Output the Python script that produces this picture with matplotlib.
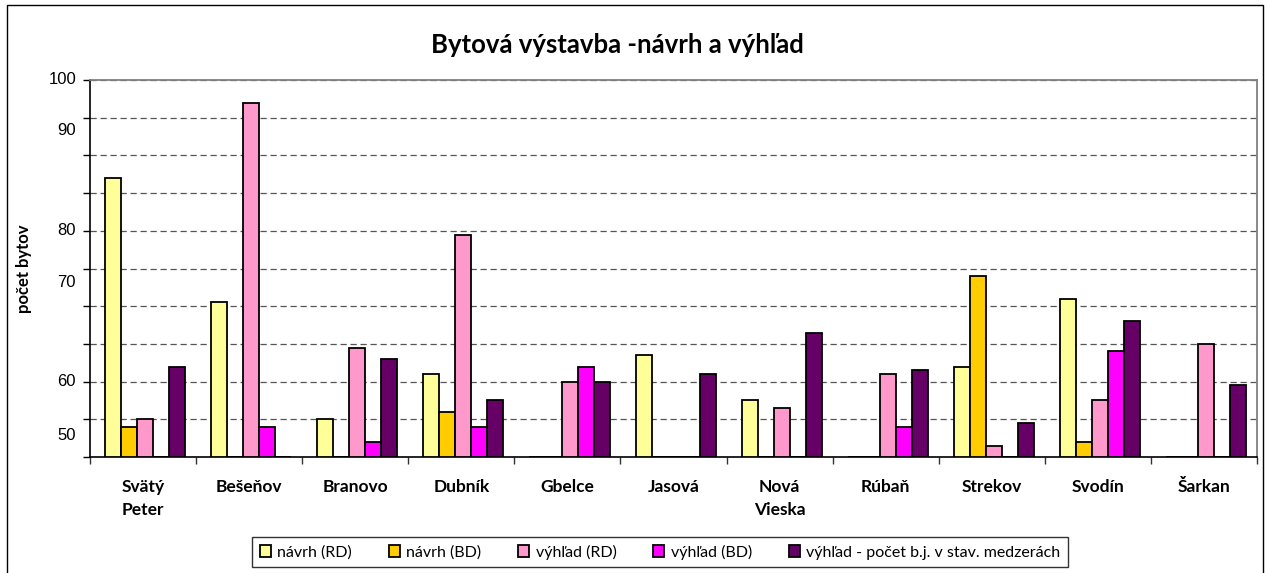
import matplotlib
matplotlib.use("Agg")
import matplotlib.pyplot as plt
import matplotlib.transforms as mtransforms
import numpy as np
from matplotlib.patches import Rectangle

categories = ["Svätý\nPeter", "Bešeňov", "Branovo", "Dubník", "Gbelce", "Jasová",
              "Nová\nVieska", "Rúbaň", "Strekov", "Svodín", "Šarkan"]
series_names = ["návrh (RD)", "návrh (BD)", "výhľad (RD)", "výhľad (BD)",
                "výhľad - počet b.j. v stav. medzerách"]
navrh_rd = [74, 41, 10, 22, 0, 27, 15, 0, 24, 42, 0]
navrh_bd = [8, 0, 0, 12, 0, 0, 0, 0, 48, 4, 0]
vyhlad_rd = [10, 94, 29, 59, 20, 0, 13, 22, 3, 15, 30]
vyhlad_bd = [0, 8, 4, 8, 24, 0, 0, 8, 0, 28, 0]
vyhlad_medz = [24, 0, 26, 15, 20, 22, 33, 23, 9, 36, 19]
colors = ["#FFFF99", "#FFCC00", "#FF99CC", "#FF00FF", "#660066"]
# y tick labels as they appear (value positions on the axis)
ytick_labels = ["100", "90", "80", "70", "60", "50"]
ytick_pos = [100, 86.7, 60, 46.2, 19.9, 5.8]

W, H = 1268, 573
fig = plt.figure(figsize=(W / 100, H / 100), dpi=100)
ax = fig.add_axes([90 / W, 1 - 457 / H, (1257 - 90) / W, (457 - 80) / H])

series = [navrh_rd, navrh_bd, vyhlad_rd, vyhlad_bd, vyhlad_medz]
x = np.arange(len(categories))
bw = 0.151
for i, (vals, c, name) in enumerate(zip(series, colors, series_names)):
    offs = (i - 2) * bw + 0.02
    ax.bar(x + offs, vals, width=bw, color=c, edgecolor="black", linewidth=1.3,
           label=name, zorder=3)

ax.set_xlim(-0.5, len(categories) - 0.5)
ax.set_ylim(0, 100)

# gridlines / major ticks every 10
ax.set_yticks(np.arange(0, 101, 10))
ax.set_yticklabels([])
ax.yaxis.grid(True, linestyle=(0, (5, 3)), color="#555555", linewidth=0.9, zorder=0)
ax.tick_params(axis="y", which="major", direction="out", length=5, width=1, color="black")
trans = mtransforms.blended_transform_factory(fig.transFigure, ax.transData)
for lab, pos in zip(ytick_labels, ytick_pos):
    fig.text(76 / W, pos, lab, ha="right", va="center", fontsize=12,
             fontfamily="Liberation Sans", transform=trans)

ax.set_xticks(np.arange(-0.5, len(categories), 1))
ax.set_xticklabels([])
ax.tick_params(axis="x", which="major", direction="out", length=5, width=1, color="#333333")
for xi, cat in zip(x, categories):
    ax.text(xi, -5.8, cat, ha="center", va="top", fontsize=12.5, fontweight="bold",
            fontfamily="Lato", linespacing=1.55, transform=ax.transData)

for s in ["top", "right"]:
    ax.spines[s].set_color("#808080")
    ax.spines[s].set_linewidth(1.3)
ax.spines["left"].set_color("black")
ax.spines["bottom"].set_color("black")
ax.spines["left"].set_linewidth(1.2)
ax.spines["bottom"].set_linewidth(1.2)

ax.set_ylabel("počet bytov", fontsize=12, fontweight="bold", fontfamily="Lato")
ax.yaxis.set_label_coords(-58 / (1257 - 90), 0.5)

fig.text(617 / W, 1 - 45 / H, "Bytová výstavba -návrh a výhľad", ha="center", va="center",
         fontsize=18.5, fontweight="bold", fontfamily="Lato")

leg = fig.legend(loc="center", bbox_to_anchor=(660 / W, 1 - 552 / H), ncol=5,
                 frameon=True, fancybox=False, edgecolor="black",
                 prop={"family": "Lato", "size": 11.5},
                 handlelength=0.7, handleheight=0.7, handletextpad=0.4,
                 columnspacing=2.3, borderpad=0.45)
leg.get_frame().set_linewidth(1.0)

fig.patches.append(Rectangle((7 / W, -0.05), (1263 - 7) / W, 1.05 - 5 / H,
                             transform=fig.transFigure, fill=False,
                             edgecolor="black", linewidth=1.0))

fig.savefig("out.png", dpi=100)
